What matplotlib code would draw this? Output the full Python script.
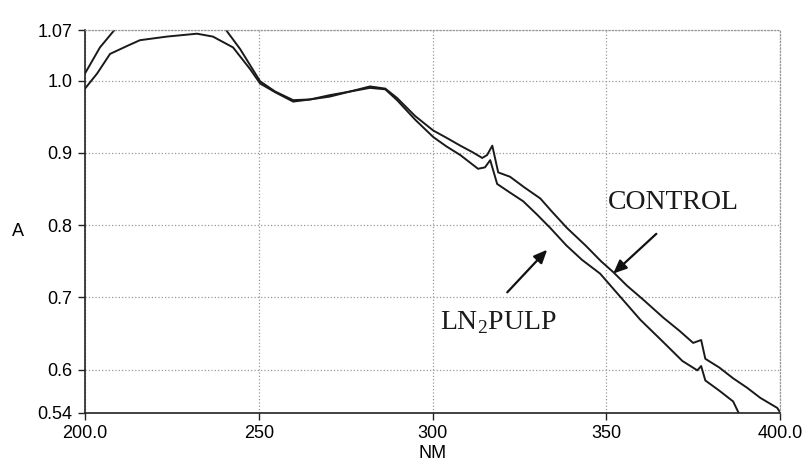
import matplotlib
matplotlib.use("Agg")
import matplotlib.pyplot as plt

# wavelength (nm) / absorbance
control_nm = [200.0, 204.3, 208.1, 212.0, 222.0, 232.0, 238.0, 240.9, 244.6, 250.4,
              254.7, 259.9, 264.8, 270.5, 276.3, 282.0, 286.4, 289.8, 295.0, 300.2,
              304.0, 308.0, 311.5, 314.3, 315.7, 317.2, 318.9, 322.3, 326.5, 331.0,
              334.5, 338.7, 344.0, 348.5, 352.0, 356.0, 360.6, 366.4, 371.0, 375.0,
              377.3, 378.5, 382.5, 386.5, 390.5, 394.3, 399.2, 400.0]
control_a = [1.010, 1.046, 1.068, 1.090, 1.110, 1.110, 1.090, 1.068, 1.044, 0.999,
             0.985, 0.973, 0.974, 0.980, 0.985, 0.992, 0.989, 0.976, 0.951, 0.931,
             0.921, 0.910, 0.901, 0.893, 0.897, 0.910, 0.873, 0.867, 0.852, 0.837,
             0.818, 0.796, 0.772, 0.750, 0.735, 0.716, 0.697, 0.672, 0.654, 0.637,
             0.641, 0.615, 0.603, 0.588, 0.575, 0.561, 0.547, 0.541]

ln2pulp_nm = [200.0, 203.5, 207.2, 212.1, 215.8, 223.6, 232.2, 236.8, 242.6, 247.5,
              250.4, 254.7, 259.9, 264.8, 270.5, 276.3, 282.0, 286.4, 289.8, 295.0,
              300.2, 304.0, 308.0, 313.1, 315.1, 316.6, 318.6, 322.0, 326.1, 330.0,
              333.9, 338.5, 343.0, 348.2, 354.0, 359.8, 366.0, 371.9, 376.2, 377.3,
              378.5, 382.5, 386.5, 388.0]
ln2pulp_a = [0.989, 1.010, 1.037, 1.048, 1.056, 1.061, 1.065, 1.061, 1.046, 1.016,
             0.996, 0.984, 0.971, 0.974, 0.978, 0.985, 0.990, 0.988, 0.973, 0.946,
             0.922, 0.909, 0.897, 0.878, 0.880, 0.890, 0.857, 0.846, 0.833, 0.815,
             0.796, 0.772, 0.752, 0.733, 0.701, 0.669, 0.640, 0.612, 0.599, 0.605,
             0.585, 0.571, 0.556, 0.541]

y_ticks = [0.54, 0.6, 0.7, 0.8, 0.9, 1.0, 1.07]
y_labels = ["0.54", "0.6", "0.7", "0.8", "0.9", "1.0", "1.07"]
x_ticks = [200, 250, 300, 350, 400]
x_labels = ["200.0", "250", "300", "350", "400.0"]

plt.rcParams["font.family"] = ["Liberation Sans", "DejaVu Sans"]
plt.rcParams["mathtext.fontset"] = "custom"
plt.rcParams["mathtext.rm"] = "Liberation Serif"

fig = plt.figure(figsize=(8.05, 4.70), dpi=100)
ax = fig.add_axes([0.1056, 0.1213, 0.8634, 0.8147])

ax.plot(control_nm, control_a, color="#1a1a1a", linewidth=1.4)
ax.plot(ln2pulp_nm, ln2pulp_a, color="#1a1a1a", linewidth=1.4)

ax.set_xlim(200, 400)
ax.set_ylim(0.54, 1.07)
ax.set_xticks(x_ticks)
ax.set_xticklabels(x_labels)
ax.set_yticks(y_ticks)
ax.set_yticklabels(y_labels)
ax.tick_params(labelsize=13, length=5, width=1.0, color="#222222", pad=4)

ax.grid(True, linestyle=":", color="#999999", linewidth=0.9)
for side in ("top", "right"):
    ax.spines[side].set_linestyle(":")
    ax.spines[side].set_color("#999999")
    ax.spines[side].set_linewidth(0.9)
for side in ("left", "bottom"):
    ax.spines[side].set_color("#222222")
    ax.spines[side].set_linewidth(1.2)

ax.set_ylabel("A", fontsize=13, rotation=0, va="center", ha="center")
ax.yaxis.set_label_coords(-0.096, 0.475)
ax.set_xlabel("NM", fontsize=13, labelpad=2)

ax.text(350.6, 0.823, "CONTROL", fontsize=20, family="Liberation Serif", color="#1a1a1a")
ax.text(302.2, 0.656, r"LN$_{\mathregular{2}}$PULP", fontsize=20,
        family="Liberation Serif", color="#1a1a1a")

arrow = dict(arrowstyle="-|>,head_length=0.8,head_width=0.35", color="#111111",
             linewidth=1.6, shrinkA=0, shrinkB=0)
ax.annotate("", xy=(352.0, 0.733), xytext=(364.4, 0.788), arrowprops=arrow)
ax.annotate("", xy=(333.0, 0.766), xytext=(321.5, 0.707), arrowprops=arrow)

fig.savefig("out.png", dpi=100)
